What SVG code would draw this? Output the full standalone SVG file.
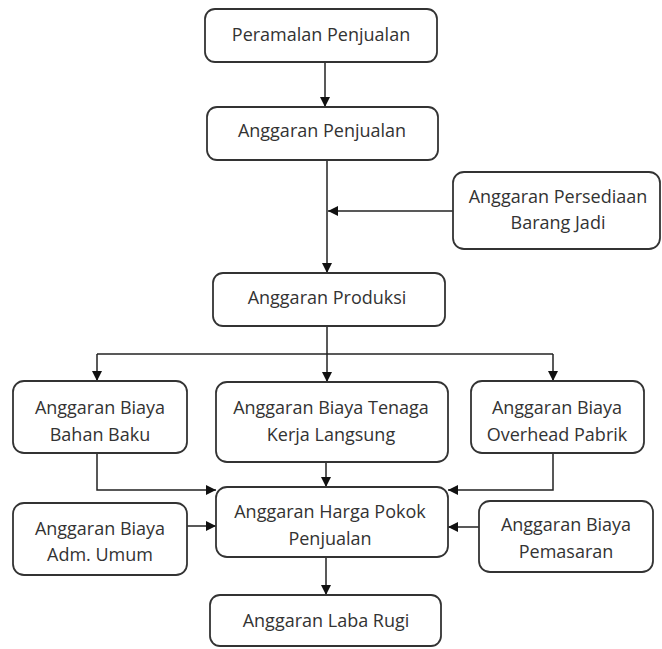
<svg xmlns="http://www.w3.org/2000/svg" width="662" height="649" viewBox="0 0 662 649">
<defs>
<marker id="ah" viewBox="0 0 10 10" refX="10" refY="5" markerWidth="10" markerHeight="10" markerUnits="userSpaceOnUse" orient="auto">
<path d="M0,0 L10,5 L0,10 Z" fill="#111"/>
</marker>
<style>
.box{fill:#fff;stroke:#333;stroke-width:1.8}
.t{font-family:"Open Sans","Liberation Sans",sans-serif;font-size:18px;fill:#333;text-anchor:middle}
.c{fill:none;stroke:#222;stroke-width:1.5}
.a{marker-end:url(#ah)}
</style>
</defs>
<rect width="662" height="649" fill="#fff"/>
<g id="connectors">
<line class="c a" x1="325" y1="62" x2="325" y2="107"/>
<line class="c a" x1="327" y1="160" x2="327" y2="273"/>
<line class="c a" x1="453" y1="211" x2="328" y2="211"/>
<line class="c" x1="327" y1="326" x2="327" y2="354"/>
<line class="c" x1="97" y1="354" x2="553" y2="354"/>
<line class="c a" x1="97" y1="354" x2="97" y2="381"/>
<line class="c a" x1="327" y1="354" x2="327" y2="382"/>
<line class="c a" x1="553" y1="354" x2="553" y2="381"/>
<polyline class="c a" points="97,453 97,490 216,490"/>
<line class="c a" x1="326" y1="462" x2="326" y2="487"/>
<polyline class="c a" points="553,453 553,490 448,490"/>
<line class="c a" x1="187" y1="526" x2="216" y2="526"/>
<line class="c a" x1="479" y1="527" x2="448" y2="527"/>
<line class="c a" x1="326" y1="557" x2="326" y2="595"/>
</g>
<g id="peramalan">
<rect class="box" x="205" y="9" width="232" height="53" rx="10"/>
<text class="t" x="321" y="41">Peramalan Penjualan</text>
</g>
<g id="anggaran-penjualan">
<rect class="box" x="207" y="107" width="231" height="53" rx="10"/>
<text class="t" x="322" y="137">Anggaran Penjualan</text>
</g>
<g id="persediaan">
<rect class="box" x="453" y="172" width="207" height="77" rx="11"/>
<text class="t" x="558" y="203">Anggaran Persediaan</text>
<text class="t" x="558" y="229">Barang Jadi</text>
</g>
<g id="produksi">
<rect class="box" x="213" y="273" width="232" height="53" rx="10"/>
<text class="t" x="327" y="304">Anggaran Produksi</text>
</g>
<g id="bahan-baku">
<rect class="box" x="13" y="381" width="174" height="72" rx="11"/>
<text class="t" x="100" y="414">Anggaran Biaya</text>
<text class="t" x="100" y="441">Bahan Baku</text>
</g>
<g id="tenaga-kerja">
<rect class="box" x="216" y="382" width="232" height="80" rx="11"/>
<text class="t" x="331" y="414">Anggaran Biaya Tenaga</text>
<text class="t" x="331" y="441">Kerja Langsung</text>
</g>
<g id="overhead">
<rect class="box" x="471" y="381" width="173" height="72" rx="11"/>
<text class="t" x="557" y="414">Anggaran Biaya</text>
<text class="t" x="557" y="441">Overhead Pabrik</text>
</g>
<g id="harga-pokok">
<rect class="box" x="216" y="487" width="232" height="70" rx="11"/>
<text class="t" x="330" y="518">Anggaran Harga Pokok</text>
<text class="t" x="330" y="545">Penjualan</text>
</g>
<g id="adm-umum">
<rect class="box" x="13" y="503" width="174" height="72" rx="11"/>
<text class="t" x="100" y="535">Anggaran Biaya</text>
<text class="t" x="100" y="561">Adm. Umum</text>
</g>
<g id="pemasaran">
<rect class="box" x="479" y="501" width="174" height="71" rx="11"/>
<text class="t" x="566" y="531">Anggaran Biaya</text>
<text class="t" x="566" y="558">Pemasaran</text>
</g>
<g id="laba-rugi">
<rect class="box" x="210" y="595" width="231" height="51" rx="10"/>
<text class="t" x="326" y="627">Anggaran Laba Rugi</text>
</g>
</svg>
